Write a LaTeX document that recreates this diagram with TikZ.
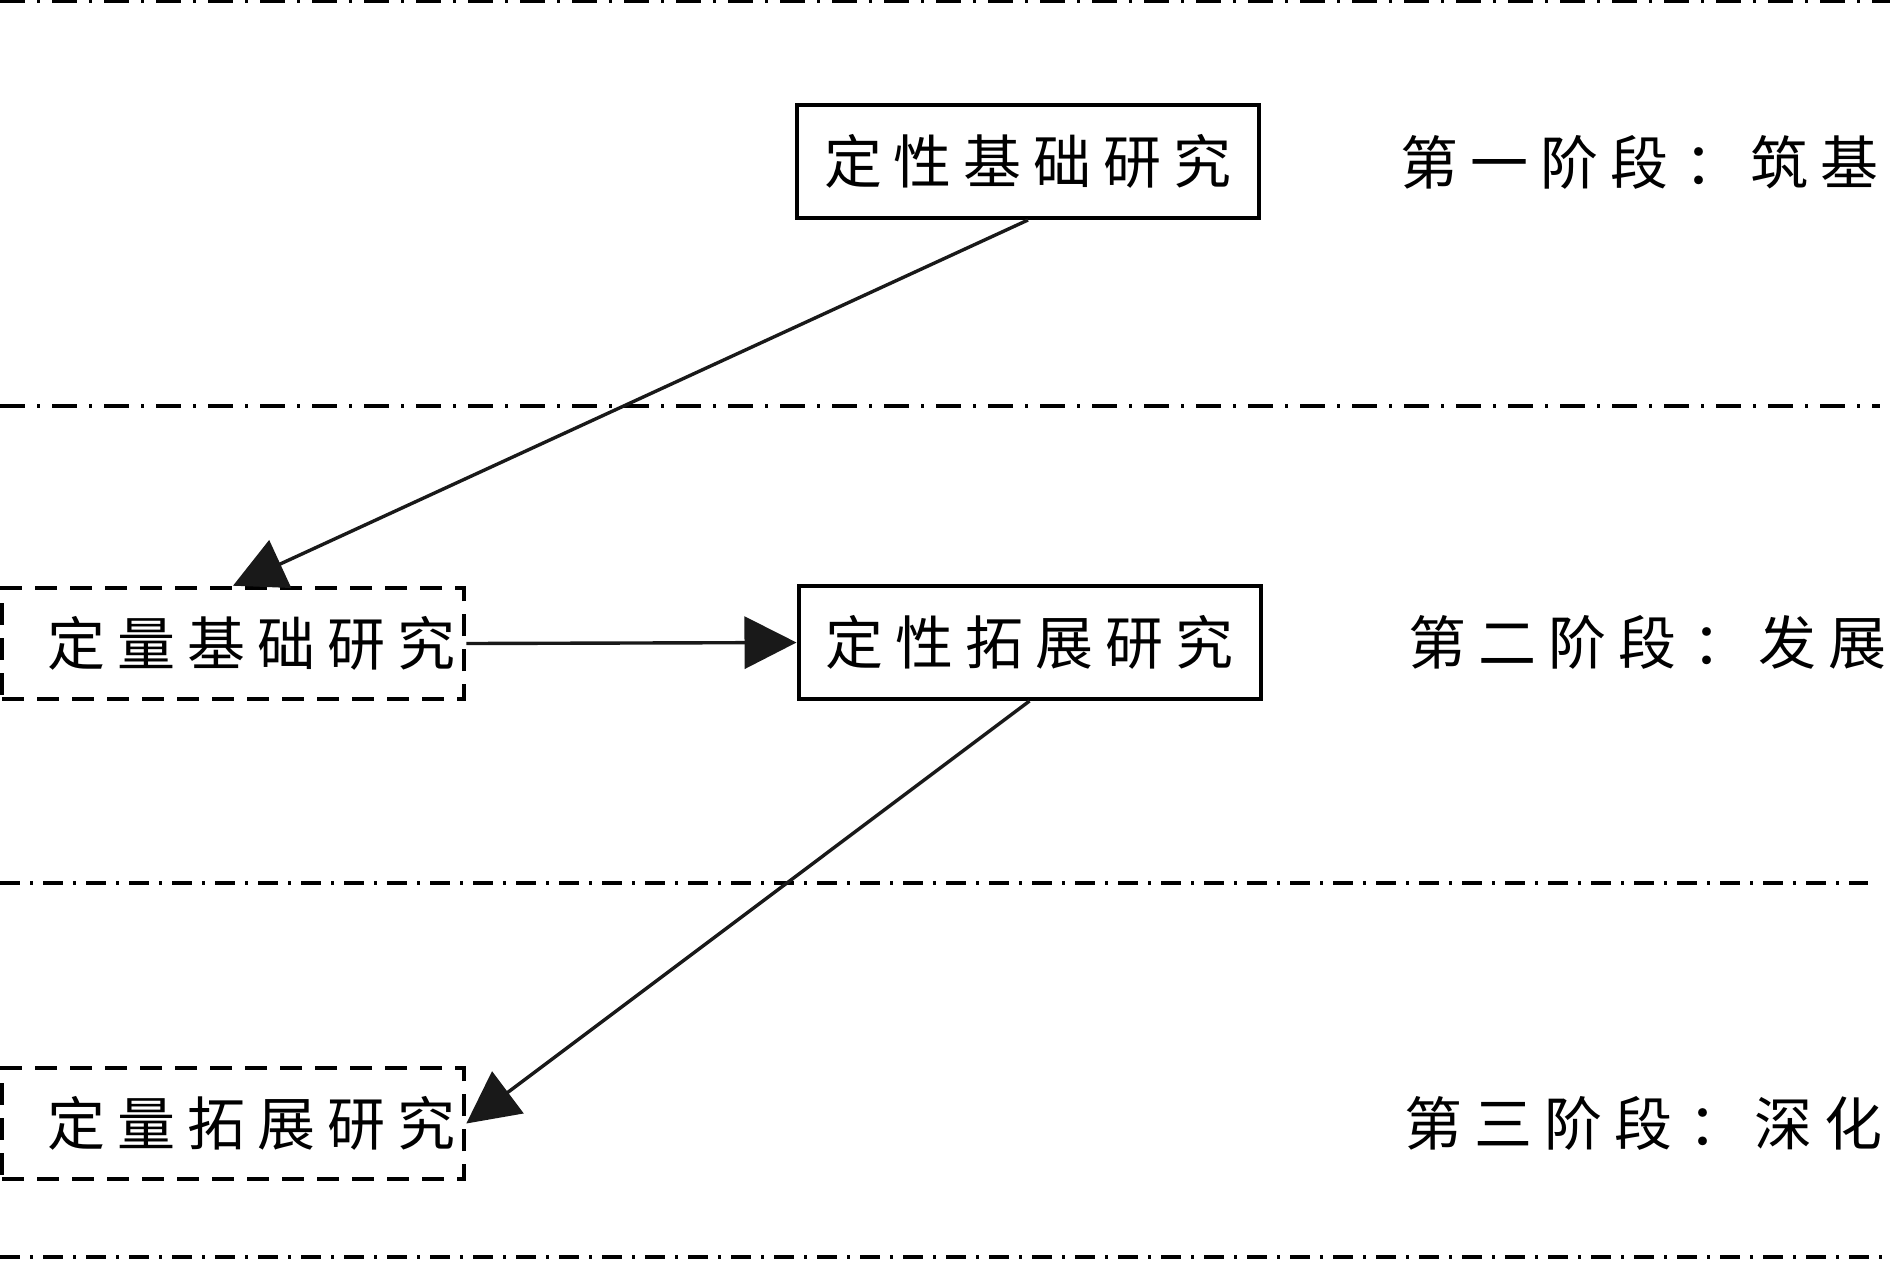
\documentclass[tikz,border=0pt]{standalone}
\usepackage{fontspec}
\newfontfamily\cjk{Noto Sans CJK SC}
\usetikzlibrary{arrows.meta}
\newcommand\gp{\hspace{6pt}}
\newcommand\colonc{\hspace{2pt}：\hspace{-2pt}}
\begin{document}
\begin{tikzpicture}[x=0.5pt,y=-0.5pt,
  every node/.style={font=\cjk\fontsize{29pt}{32pt}\selectfont, inner sep=0pt},
  solidbox/.style={draw, line width=2pt, minimum width=231pt, minimum height=56.5pt},
  dashbox/.style={draw, line width=2.3pt, dash pattern=on 11pt off 6.5pt, minimum width=231pt, minimum height=55.5pt},
  conn/.style={line width=1.7pt, draw=black!90, -{Triangle[length=26pt,width=26pt]}},
  stageline/.style={draw=black, line width=2.4pt, dash pattern=on 12.5pt off 6pt on 1.5pt off 6pt},
  stageline2/.style={draw=black, line width=2.4pt, dash pattern=on 10pt off 5pt on 1.5pt off 5pt},
  lbl/.style={anchor=west}]
\useasboundingbox (0,0) rectangle (1890,1260);
% stage separators
\coordinate (l1a) at (0,1);    \coordinate (l1b) at (1890,1);
\coordinate (l2a) at (0,406);  \coordinate (l2b) at (1880,406);
\coordinate (l3a) at (0,883);  \coordinate (l3b) at (1868,883);
\coordinate (l4a) at (0,1257); \coordinate (l4b) at (1890,1257);
\draw[stageline] (l1a) -- (l1b);
\draw[stageline] (l2a) -- (l2b);
\draw[stageline2] (l3a) -- (l3b);
\draw[stageline2] (l4a) -- (l4b);
% boxes
\node[solidbox] (qb1) at (1028,161.5) {定\gp 性\gp 基\gp 础\gp 研\gp 究};
\node[dashbox] (lj) at (233,643.5) {\hspace{19pt}定\gp 量\gp 基\gp 础\gp 研\gp 究};
\node[solidbox] (qt) at (1029.5,642.5) {定\gp 性\gp 拓\gp 展\gp 研\gp 究};
\node[dashbox] (lt) at (233,1123.5) {\hspace{19pt}定\gp 量\gp 拓\gp 展\gp 研\gp 究};
% stage labels
\node[lbl] (s1) at (1400,162) {第\gp 一\gp 阶\gp 段\gp \colonc\gp 筑\gp 基};
\node[lbl] (s2) at (1408,642) {第\gp 二\gp 阶\gp 段\gp \colonc\gp 发\gp 展};
\node[lbl] (s3) at (1404,1123) {第\gp 三\gp 阶\gp 段\gp \colonc\gp 深\gp 化};
% connectors
\draw[conn] (qb1.south) -- (lj.north);
\draw[conn] (lj.east) -- (qt.west);
\draw[conn] (qt.south) -- (lt.east);
\end{tikzpicture}
\end{document}
